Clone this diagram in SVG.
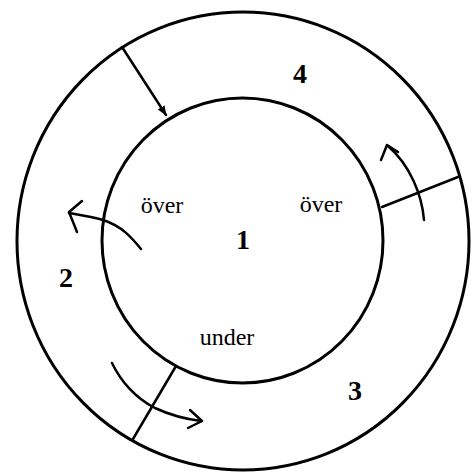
<svg xmlns="http://www.w3.org/2000/svg" width="473" height="473" viewBox="0 0 473 473">
<style>
.ring{fill:none;stroke:#000;stroke-width:3}
.ln{fill:none;stroke:#000;stroke-width:2.5;stroke-linecap:round;stroke-linejoin:round}
.hd{fill:none;stroke:#000;stroke-width:2.5;stroke-linecap:round;stroke-linejoin:round}
.num{font-family:"Liberation Serif","Times New Roman",serif;font-weight:bold;font-size:28px;text-anchor:middle}
.lbl{font-family:"Liberation Serif","Times New Roman",serif;font-size:24px;text-anchor:middle}
</style>
<defs>
<marker id="tip" viewBox="0 0 10 10" refX="9" refY="5" markerWidth="4" markerHeight="4" orient="auto">
<path d="M0,1 L10,5 L0,9 Z" fill="#000"/>
</marker>
</defs>
<rect width="473" height="473" fill="#fff"/>
<g id="outer-ring"><ellipse class="ring" cx="243" cy="241" rx="226" ry="229"/></g>
<g id="inner-circle"><ellipse class="ring" cx="242.5" cy="240.5" rx="140.5" ry="142.5"/></g>
<g id="connectors">
<line class="ln" x1="122" y1="47" x2="166" y2="115" marker-end="url(#tip)"/>
<line class="ln" x1="382" y1="207" x2="458" y2="177"/>
<line class="ln" x1="176" y1="366" x2="133" y2="439"/>
<path class="ln" d="M424,220 C422,195 410,165 388,146"/>
<path class="hd" d="M381,160 L387,145 L398,152"/>
<path class="ln" d="M141,249 C132,238 122,226 103,220 C92,217 80,215 69,213"/>
<path class="hd" d="M82,201 L69,212 L77,232"/>
<path class="ln" d="M112,363 C120,380 135,398 155,408 C170,415 185,419 201,421"/>
<path class="hd" d="M190,410 L202,421 L188,428"/>
</g>
<g id="label-1"><text class="num" x="243" y="249">1</text></g>
<g id="label-2"><text class="num" x="66" y="287">2</text></g>
<g id="label-3"><text class="num" x="355" y="400">3</text></g>
<g id="label-4"><text class="num" x="300" y="83">4</text></g>
<g id="label-over-left"><text class="lbl" x="162" y="213">över</text></g>
<g id="label-over-right"><text class="lbl" x="321" y="212">över</text></g>
<g id="label-under"><text class="lbl" x="227" y="345">under</text></g>
</svg>
